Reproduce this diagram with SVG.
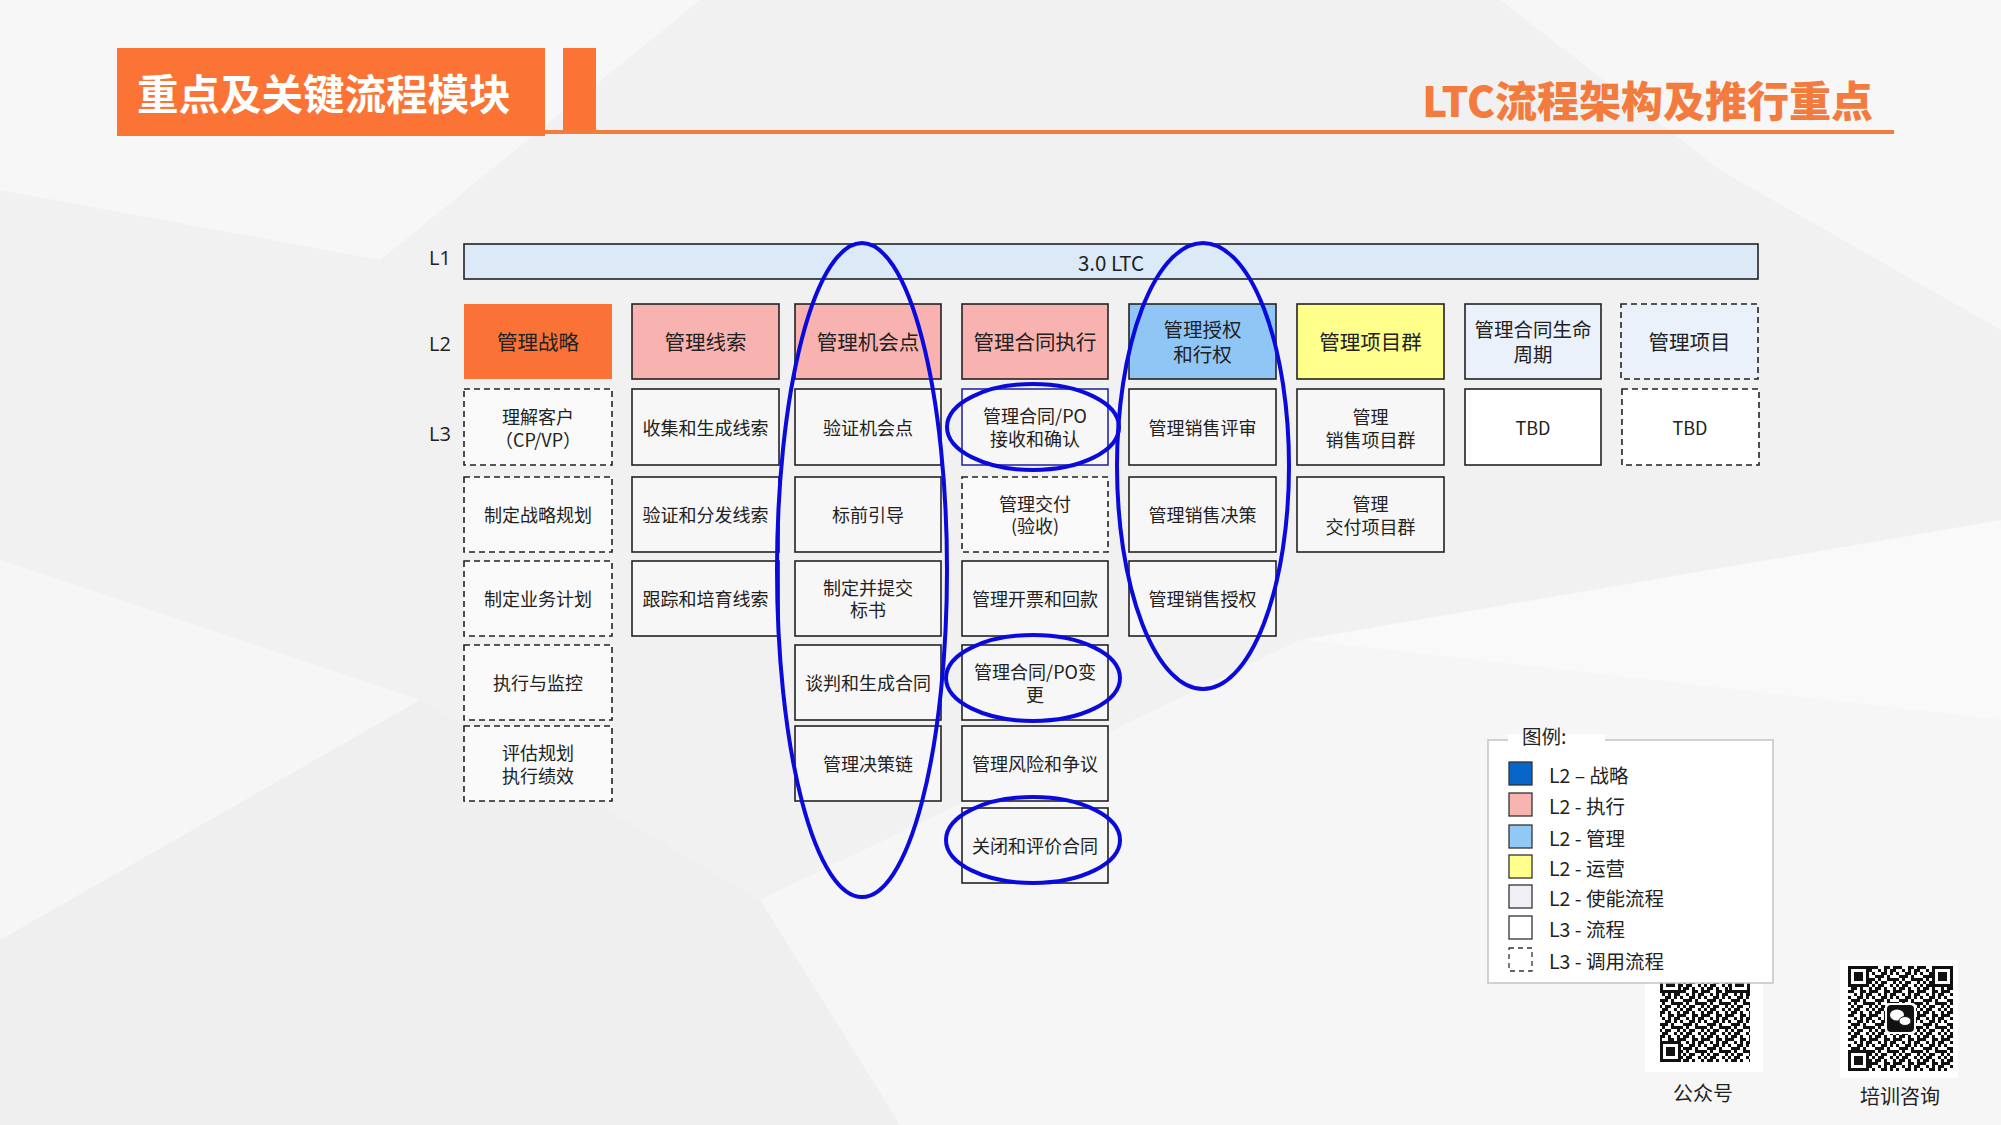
<svg xmlns="http://www.w3.org/2000/svg" width="2001" height="1125" viewBox="0 0 2001 1125">
<defs>
<style>
.t{font-family:"Noto Sans CJK SC","Liberation Sans",sans-serif;fill:#222;dominant-baseline:central;text-anchor:middle}
.l2t{font-size:20.5px}
.l2s{font-size:19.5px}
.l3t{font-size:18px}
.lvl{font-family:"Open Sans","Noto Sans CJK SC",sans-serif;font-size:20px;fill:#222;dominant-baseline:central;text-anchor:middle}
.box{stroke:#222;stroke-width:1.6}
.dash{stroke-dasharray:6 4}
.l3{fill:#F7F7F7}
.hl{fill:none;stroke:#0A0ADC;stroke-width:4}
.leg{font-family:"Noto Sans CJK SC","Liberation Sans",sans-serif;font-size:19.5px;fill:#222;dominant-baseline:central}
.sw{stroke:#333;stroke-width:1.3}
</style>
<pattern id="qrp" x="0" y="0" width="24" height="24" patternUnits="userSpaceOnUse">
<rect width="24" height="24" fill="#fff"/>
<path fill="#111" d="M0 0h3v3h-3zM6 0h6v3h-6zM18 0h3v3h-3zM3 3h6v3h-6zM12 3h3v3h-3zM21 3h3v3h-3zM0 6h6v3h-6zM12 6h6v3h-6zM21 6h3v3h-3zM6 9h3v3h-3zM12 9h3v3h-3zM18 9h6v3h-6zM0 12h3v3h-3zM9 12h6v3h-6zM18 12h3v3h-3zM3 15h9v3h-9zM15 15h3v3h-3zM0 18h3v3h-3zM6 18h3v3h-3zM15 18h9v3h-9zM3 21h3v3h-3zM9 21h6v3h-6zM21 21h3v3h-3z"/>
</pattern>
<g id="finder">
<rect x="0" y="0" width="21" height="21" fill="#111"/>
<rect x="3" y="3" width="15" height="15" fill="#fff"/>
<rect x="6" y="6" width="9" height="9" fill="#111"/>
</g>
</defs>

<!-- background -->
<rect x="0" y="0" width="2001" height="1125" fill="#F1F1F1"/>
<polygon points="0,0 700,0 380,260 0,190" fill="#F7F7F7"/>
<polygon points="1500,0 2001,0 2001,330 1720,170" fill="#F7F7F7"/>
<polygon points="0,560 420,700 0,940" fill="#F6F6F6"/>
<polygon points="760,900 1300,640 2001,720 2001,1125 900,1125" fill="#F6F6F6"/>
<polygon points="1300,640 2001,520 2001,720" fill="#F9F9F9"/>
<polygon points="0,940 420,700 760,900 900,1125 0,1125" fill="#EFEFEF"/>

<!-- header -->
<g id="header">
<rect x="117" y="48" width="428" height="88" fill="#FB7436"/>
<rect x="563" y="48" width="33" height="86" fill="#FB7436"/>
<rect x="545" y="130" width="1349" height="4" fill="#F47B3E"/>
<text x="137" y="92" font-family="'Noto Sans CJK SC','Liberation Sans',sans-serif" font-size="41.5" font-weight="bold" fill="#fff" dominant-baseline="central">重点及关键流程模块</text>
<text x="1873" y="98" font-family="'Noto Sans CJK SC','Liberation Sans',sans-serif" font-size="42" font-weight="900" fill="#F47B3E" text-anchor="end" dominant-baseline="central">LTC流程架构及推行重点</text>
</g>

<!-- level labels -->
<g id="levels">
<text class="lvl" x="440" y="257">L1</text>
<text class="lvl" x="440" y="343">L2</text>
<text class="lvl" x="440" y="433">L3</text>
</g>

<!-- L1 -->
<g id="l1-ltc">
<rect class="box" x="464" y="244" width="1294" height="35" fill="#DCEAF8"/>
<text class="t l2t" x="1111" y="262" font-family="'Open Sans',sans-serif">3.0 LTC</text>
</g>

<!-- L2 -->
<g id="l2-strategy"><rect x="464" y="304" width="148" height="75" fill="#FA7236"/><text class="t l2t" x="538" y="341">管理战略</text></g>
<g id="l2-leads"><rect class="box" x="632" y="304" width="147" height="75" fill="#F8B2AF"/><text class="t l2t" x="705.5" y="341">管理线索</text></g>
<g id="l2-opportunity"><rect class="box" x="795" y="304" width="146" height="75" fill="#F8B2AF"/><text class="t l2t" x="868" y="341">管理机会点</text></g>
<g id="l2-contract"><rect class="box" x="962" y="304" width="146" height="75" fill="#F8B2AF"/><text class="t l2t" x="1035" y="341">管理合同执行</text></g>
<g id="l2-authorize"><rect class="box" x="1129" y="304" width="147" height="75" fill="#8FC6F6"/><text class="t l2s" x="1202.5" y="328">管理授权</text><text class="t l2s" x="1202.5" y="353">和行权</text></g>
<g id="l2-programs"><rect class="box" x="1297" y="304" width="147" height="75" fill="#FFFF8C"/><text class="t l2t" x="1370.5" y="341">管理项目群</text></g>
<g id="l2-lifecycle"><rect class="box" x="1465" y="304" width="136" height="75" fill="#EAF1FA"/><text class="t l2s" x="1533" y="328">管理合同生命</text><text class="t l2s" x="1533" y="353">周期</text></g>
<g id="l2-project"><rect class="box dash" x="1621" y="304" width="137" height="75" fill="#EAF1FA"/><text class="t l2t" x="1689.5" y="341">管理项目</text></g>

<!-- L3 column 1 -->
<g id="l3-c1-r1"><rect class="box dash" x="464" y="389" width="148" height="76" fill="#FAFAFA"/><text class="t l3t" x="538" y="416">理解客户</text><text class="t l3t" x="538" y="439">（CP/VP）</text></g>
<g id="l3-c1-r2"><rect class="box dash" x="464" y="477" width="148" height="75" fill="#FAFAFA"/><text class="t l3t" x="538" y="514">制定战略规划</text></g>
<g id="l3-c1-r3"><rect class="box dash" x="464" y="561" width="148" height="75" fill="#FAFAFA"/><text class="t l3t" x="538" y="598">制定业务计划</text></g>
<g id="l3-c1-r4"><rect class="box dash" x="464" y="645" width="148" height="75" fill="#FAFAFA"/><text class="t l3t" x="538" y="682">执行与监控</text></g>
<g id="l3-c1-r5"><rect class="box dash" x="464" y="726" width="148" height="75" fill="#FAFAFA"/><text class="t l3t" x="538" y="752">评估规划</text><text class="t l3t" x="538" y="775">执行绩效</text></g>

<!-- L3 column 2 -->
<g id="l3-c2-r1"><rect class="box l3" x="632" y="389" width="147" height="76"/><text class="t l3t" x="705.5" y="427">收集和生成线索</text></g>
<g id="l3-c2-r2"><rect class="box l3" x="632" y="477" width="147" height="75"/><text class="t l3t" x="705.5" y="514">验证和分发线索</text></g>
<g id="l3-c2-r3"><rect class="box l3" x="632" y="561" width="147" height="75"/><text class="t l3t" x="705.5" y="598">跟踪和培育线索</text></g>

<!-- L3 column 3 -->
<g id="l3-c3-r1"><rect class="box l3" x="795" y="389" width="146" height="76"/><text class="t l3t" x="868" y="427">验证机会点</text></g>
<g id="l3-c3-r2"><rect class="box l3" x="795" y="477" width="146" height="75"/><text class="t l3t" x="868" y="514">标前引导</text></g>
<g id="l3-c3-r3"><rect class="box l3" x="795" y="561" width="146" height="75"/><text class="t l3t" x="868" y="587">制定并提交</text><text class="t l3t" x="868" y="609">标书</text></g>
<g id="l3-c3-r4"><rect class="box l3" x="795" y="645" width="146" height="75"/><text class="t l3t" x="868" y="682">谈判和生成合同</text></g>
<g id="l3-c3-r5"><rect class="box l3" x="795" y="726" width="146" height="75"/><text class="t l3t" x="868" y="763">管理决策链</text></g>

<!-- L3 column 4 -->
<g id="l3-c4-r1"><rect x="962" y="389" width="146" height="76" fill="#F7F7F7" stroke="#2A2AA0" stroke-width="1.6"/><text class="t l3t" x="1035" y="415">管理合同/PO</text><text class="t l3t" x="1035" y="438">接收和确认</text></g>
<g id="l3-c4-r2"><rect class="box dash" x="962" y="477" width="146" height="75" fill="#FAFAFA"/><text class="t l3t" x="1035" y="503">管理交付</text><text class="t l3t" x="1035" y="525">(验收)</text></g>
<g id="l3-c4-r3"><rect class="box l3" x="962" y="561" width="146" height="75"/><text class="t l3t" x="1035" y="598">管理开票和回款</text></g>
<g id="l3-c4-r4"><rect class="box l3" x="962" y="645" width="146" height="75"/><text class="t l3t" x="1035" y="671">管理合同/PO变</text><text class="t l3t" x="1035" y="694">更</text></g>
<g id="l3-c4-r5"><rect class="box l3" x="962" y="726" width="146" height="75"/><text class="t l3t" x="1035" y="763">管理风险和争议</text></g>
<g id="l3-c4-r6"><rect class="box l3" x="962" y="808" width="146" height="75"/><text class="t l3t" x="1035" y="845">关闭和评价合同</text></g>

<!-- L3 column 5 -->
<g id="l3-c5-r1"><rect class="box l3" x="1129" y="389" width="147" height="76"/><text class="t l3t" x="1202.5" y="427">管理销售评审</text></g>
<g id="l3-c5-r2"><rect class="box l3" x="1129" y="477" width="147" height="75"/><text class="t l3t" x="1202.5" y="514">管理销售决策</text></g>
<g id="l3-c5-r3"><rect class="box l3" x="1129" y="561" width="147" height="75"/><text class="t l3t" x="1202.5" y="598">管理销售授权</text></g>

<!-- L3 column 6 -->
<g id="l3-c6-r1"><rect class="box l3" x="1297" y="389" width="147" height="76"/><text class="t l3t" x="1370.5" y="416">管理</text><text class="t l3t" x="1370.5" y="439">销售项目群</text></g>
<g id="l3-c6-r2"><rect class="box l3" x="1297" y="477" width="147" height="75"/><text class="t l3t" x="1370.5" y="503">管理</text><text class="t l3t" x="1370.5" y="526">交付项目群</text></g>

<!-- L3 columns 7, 8 -->
<g id="l3-c7-r1"><rect class="box" x="1465" y="389" width="136" height="76" fill="#FFFFFF"/><text class="t l3t" x="1533" y="427" font-family="'Open Sans',sans-serif">TBD</text></g>
<g id="l3-c8-r1"><rect class="box dash" x="1622" y="389" width="137" height="76" fill="#FFFFFF"/><text class="t l3t" x="1690" y="427" font-family="'Open Sans',sans-serif">TBD</text></g>

<!-- highlight ellipses -->
<g id="connectors">
<ellipse class="hl" cx="862" cy="570" rx="85" ry="327"/>
<ellipse class="hl" cx="1203" cy="466" rx="86" ry="223"/>
<ellipse class="hl" cx="1033" cy="427" rx="86" ry="43"/>
<ellipse class="hl" cx="1033" cy="678" rx="87" ry="43"/>
<ellipse class="hl" cx="1033" cy="840" rx="87" ry="43"/>
</g>

<!-- QR codes -->
<g id="qr-gzh">
<rect x="1645" y="960" width="118" height="112" fill="#FFFFFF"/>
<rect x="1660" y="972" width="90" height="90" fill="url(#qrp)"/>
<use href="#finder" x="1660" y="972"/>
<use href="#finder" x="1729" y="972"/>
<use href="#finder" x="1660" y="1041"/>
<text x="1703" y="1092" font-family="'Noto Sans CJK SC',sans-serif" font-size="20" fill="#222" text-anchor="middle" dominant-baseline="central">公众号</text>
</g>
<g id="qr-px">
<rect x="1840" y="960" width="118" height="118" fill="#FFFFFF"/>
<rect x="1848" y="966" width="105" height="105" fill="url(#qrp)"/>
<use href="#finder" x="1848" y="966"/>
<use href="#finder" x="1932" y="966"/>
<use href="#finder" x="1848" y="1050"/>
<rect x="1885" y="1003" width="31" height="31" rx="4" fill="#fff"/>
<rect x="1887" y="1005" width="27" height="27" rx="4" fill="#111"/>
<ellipse cx="1897" cy="1015" rx="7" ry="5.5" fill="#fff"/>
<ellipse cx="1905" cy="1021" rx="6" ry="4.5" fill="#fff" stroke="#111" stroke-width="1"/>
<text x="1900" y="1095" font-family="'Noto Sans CJK SC',sans-serif" font-size="20" fill="#222" text-anchor="middle" dominant-baseline="central">培训咨询</text>
</g>

<!-- legend -->
<g id="legend">
<rect x="1488" y="740" width="285" height="243" fill="#FFFFFF" stroke="#C4C4C4" stroke-width="1.5"/>
<rect x="1508" y="734" width="97" height="12" fill="#FFFFFF"/>
<text class="leg" x="1522" y="735">图例:</text>
<rect class="sw" x="1509" y="762" width="23" height="23" fill="#0766C8"/>
<rect class="sw" x="1509" y="793" width="23" height="23" fill="#F8B4B0"/>
<rect class="sw" x="1509" y="825" width="23" height="23" fill="#92C8F6"/>
<rect class="sw" x="1509" y="855" width="23" height="23" fill="#FFFF8C"/>
<rect class="sw" x="1509" y="885" width="23" height="23" fill="#EEF0F6"/>
<rect class="sw" x="1509" y="916" width="23" height="23" fill="#FFFFFF"/>
<rect class="sw" x="1509" y="948" width="23" height="23" fill="#FFFFFF" stroke-dasharray="5 4"/>
<text class="leg" x="1549" y="774">L2 – 战略</text>
<text class="leg" x="1549" y="805">L2 - 执行</text>
<text class="leg" x="1549" y="837">L2 - 管理</text>
<text class="leg" x="1549" y="867">L2 - 运营</text>
<text class="leg" x="1549" y="897">L2 - 使能流程</text>
<text class="leg" x="1549" y="928">L3 - 流程</text>
<text class="leg" x="1549" y="960">L3 - 调用流程</text>
</g>
</svg>
